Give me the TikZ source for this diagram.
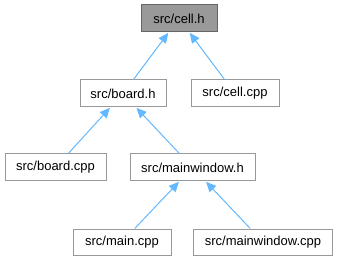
\documentclass[tikz,border=0pt]{standalone}
\usepackage{fontspec}
\setmainfont{Liberation Sans}
\usepackage{xcolor}
\usepackage{tikz}
\usetikzlibrary{positioning,%
  arrows.meta,%
  calc
}

\definecolor{edgeblue}{HTML}{63B8FF}
\definecolor{boxgray}{HTML}{999999}
\definecolor{boxdark}{HTML}{666666}

\tikzset{
  file/.style={draw=boxgray, fill=white, line width=1pt, minimum height=27pt,
    inner sep=0pt, font=\fontsize{13}{15}\selectfont},
  current/.style={file, draw=boxdark, fill=boxgray},
  dep/.style={draw=edgeblue, line width=1pt,
    -{Triangle[length=10pt,width=9pt,fill=edgeblue]}, shorten >=0.5pt}
}

\begin{document}
\begin{tikzpicture}[x=1pt,y=-1pt]
            \useasboundingbox (0,0) rectangle (339,261);
            % header and sources
            \node[current, minimum width=76pt]  (cellh)   at (179,18.5)  {src/cell.h};
            \node[file, minimum width=86pt]     (boardh)  at (123,93.5)  {src/board.h};
            \node[file, minimum width=88pt]     (cellcpp) at (235,93.5)  {src/cell.cpp};
            \node[file, minimum width=101pt]    (boardcpp) at (55.5,167.5) {src/board.cpp};
            \node[file, minimum width=125pt]    (mainwinh) at (192.5,167.5) {src/mainwindow.h};
            \node[file, minimum width=98pt, minimum height=26pt] (maincpp) at (122,242) {src/main.cpp};
            \node[file, minimum width=139pt, minimum height=26pt] (mainwincpp) at (263,242) {src/mainwindow.cpp};
            % include edges
            \draw[dep] (boardh) -- (cellh);
            \draw[dep] (cellcpp) -- (cellh);
            \draw[dep] (boardcpp) -- (boardh);
            \draw[dep] (mainwinh) -- (boardh);
            \draw[dep] (maincpp) -- (mainwinh);
            \draw[dep] (mainwincpp) -- (mainwinh);
\end{tikzpicture}
\end{document}
